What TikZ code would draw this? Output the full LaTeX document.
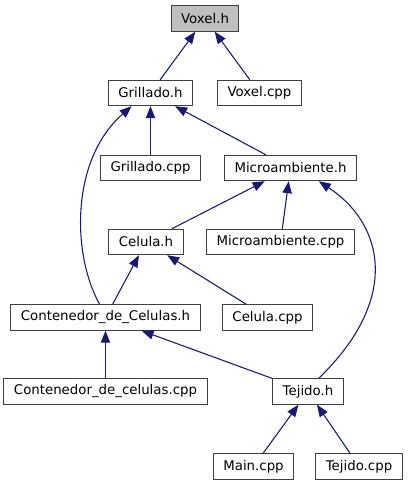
\documentclass[tikz,border=0pt]{standalone}
\usepackage{fontspec}
\setmainfont{DejaVu Sans}
\usetikzlibrary{arrows.meta}
\definecolor{edgeblue}{HTML}{191970}
\definecolor{boxline}{HTML}{404040}
\definecolor{voxgray}{HTML}{BFBFBF}

\begin{document}
\begin{tikzpicture}[x=0.75pt, y=0.75pt,
        box/.style = {rectangle, draw=boxline, line width=0.8pt, fill=#1,
                     font=\fontsize{10}{12}\selectfont,
                     minimum height=19pt, inner xsep=7.5pt, inner ysep=0pt},
        inc/.style = {draw=edgeblue, line width=0.8pt,
                     -{Triangle[length=9pt, width=7pt]}}
                        ]
\useasboundingbox (0,0) rectangle (410,-485);
\node (voxelh) [box=voxgray] at (205,-18.5) {Voxel.h};
\node (grilladoh) [box=white] at (150.5,-93) {Grillado.h};
\node (voxelcpp) [box=white] at (259.5,-93) {Voxel.cpp};
\node (grilladocpp) [box=white] at (150.5,-168) {Grillado.cpp};
\node (microh) [box=white] at (290.5,-168) {Microambiente.h};
\node (celulah) [box=white] at (146,-242) {Celula.h};
\node (microcpp) [box=white] at (280.5,-242) {Microambiente.cpp};
\node (contenedorh) [box=white] at (105.5,-317.5) {Contenedor\_de\_Celulas.h};
\node (celulacpp) [box=white] at (267.5,-317.5) {Celula.cpp};
\node (contenedorcpp) [box=white] at (105.5,-391.5) {Contenedor\_de\_celulas.cpp};
\node (tejidoh) [box=white] at (308,-391.5) {Tejido.h};
\node (maincpp) [box=white] at (253.5,-466.5) {Main.cpp};
\node (tejidocpp) [box=white] at (359,-466.5) {Tejido.cpp};
\draw[inc] (grilladoh) to (voxelh);
\draw[inc] (voxelcpp) to (voxelh);
\draw[inc] (grilladocpp) to (grilladoh);
\draw[inc] (microh) to (grilladoh);
\draw[inc] (contenedorh.114) .. controls (72,-255) and (70,-160) .. (grilladoh.-145);
\draw[inc] (celulah) to (microh);
\draw[inc] (microcpp) to (microh);
\draw[inc] (tejidoh.51) .. controls (400,-300) and (385,-225) .. (microh.-25);
\draw[inc] (contenedorh) to (celulah);
\draw[inc] (celulacpp) to (celulah);
\draw[inc] (contenedorcpp) to (contenedorh);
\draw[inc] (tejidoh) to (contenedorh);
\draw[inc] (maincpp) to (tejidoh);
\draw[inc] (tejidocpp) to (tejidoh);
\end{tikzpicture}
\end{document}
